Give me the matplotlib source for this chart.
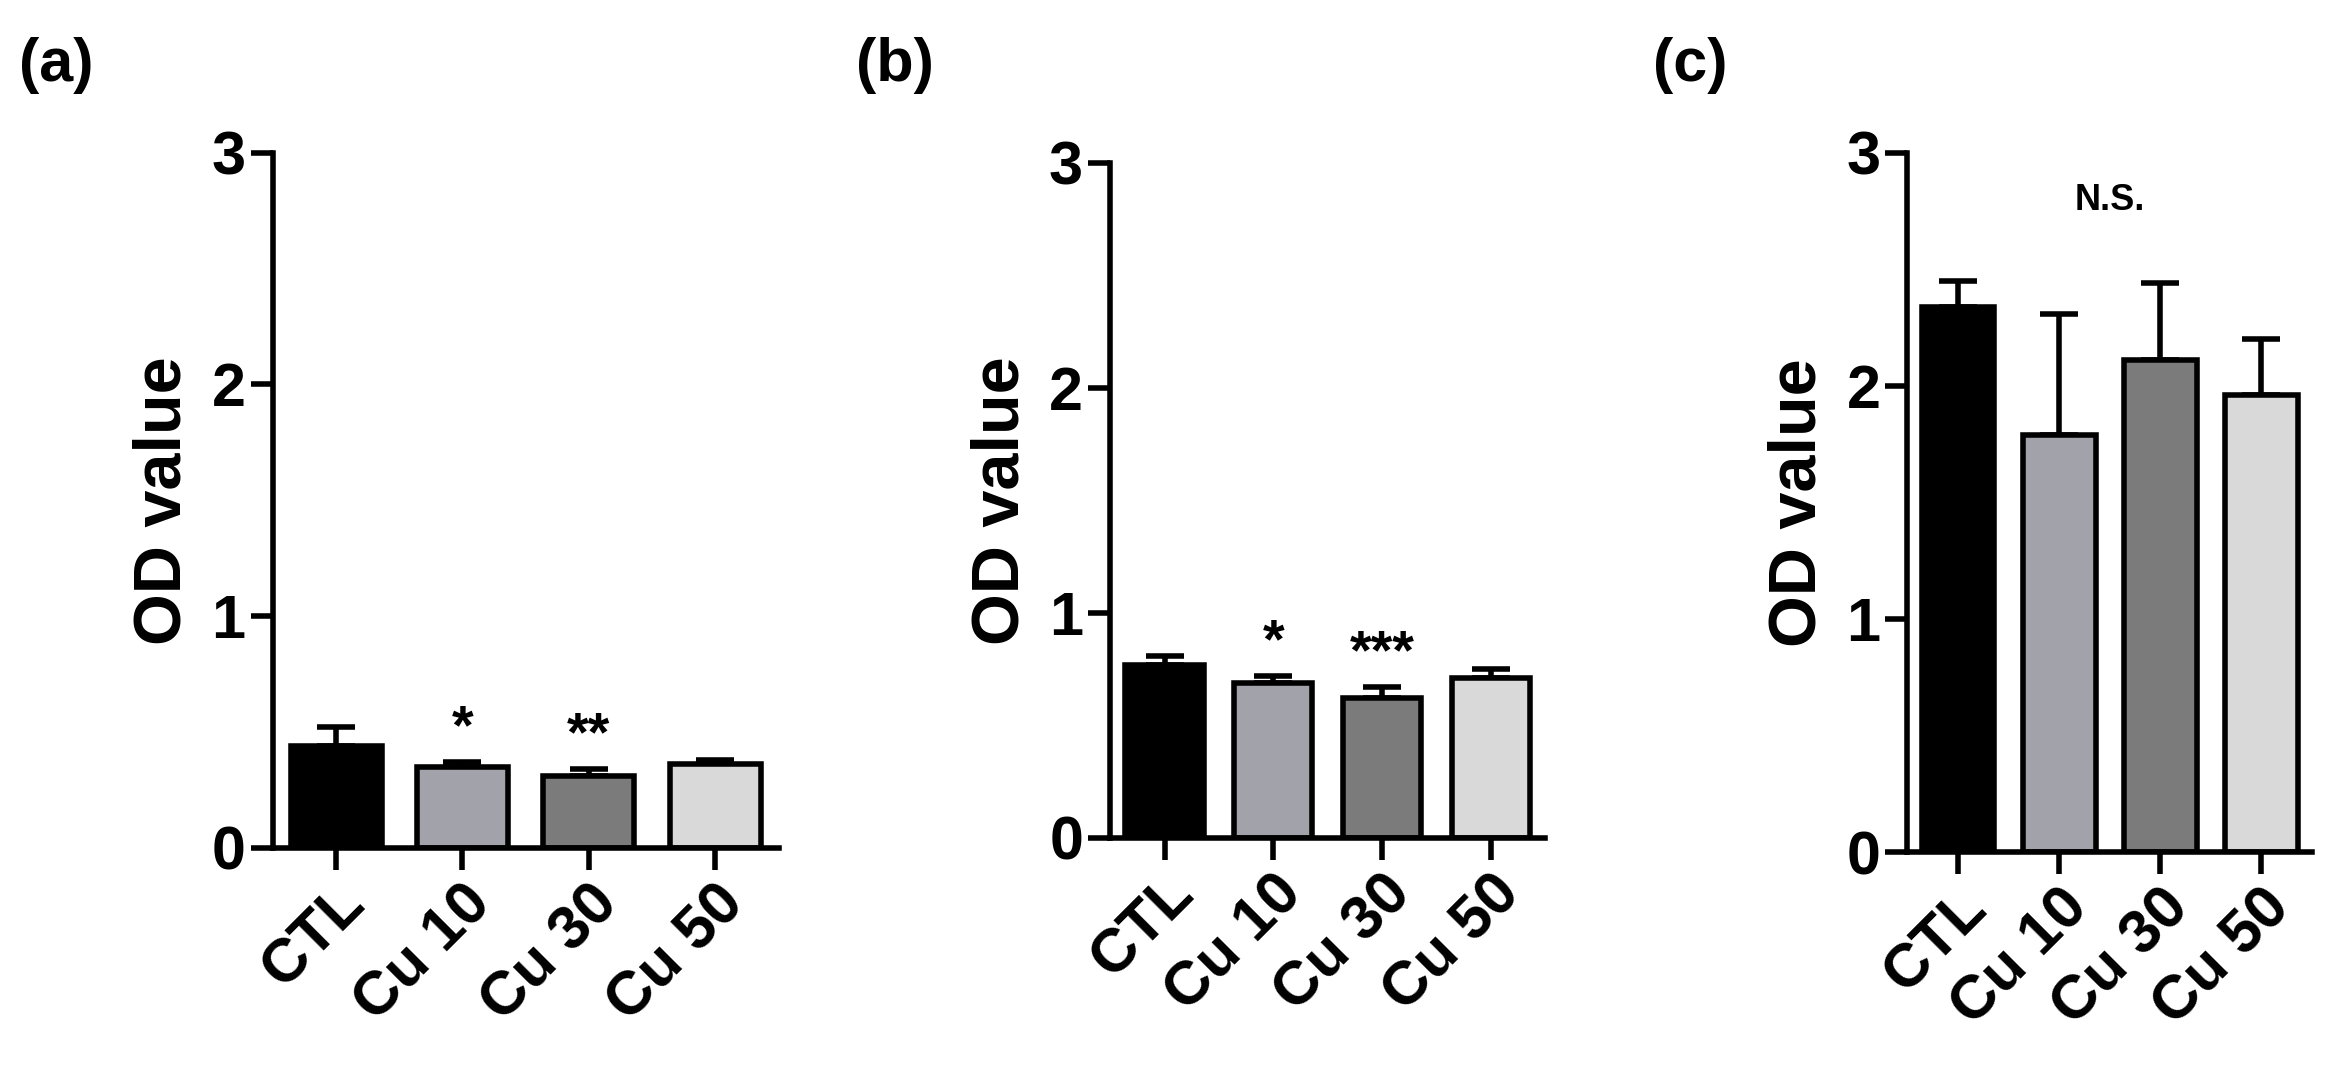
import matplotlib.pyplot as plt
import numpy as np

plt.rcParams['font.family'] = ['Liberation Sans', 'DejaVu Sans']
plt.rcParams['font.weight'] = 'bold'

groups = ['CTL', 'Cu 10', 'Cu 30', 'Cu 50']
colors = ['#000000', '#a2a2aa', '#7b7b7b', '#d9d9d9']

a_vals = [0.44, 0.35, 0.31, 0.36]
a_err = [0.08, 0.02, 0.03, 0.02]
a_sig = ['', '*', '**', '']

b_vals = [0.77, 0.69, 0.62, 0.71]
b_err = [0.04, 0.03, 0.05, 0.04]
b_sig = ['', '*', '***', '']

c_vals = [2.34, 1.79, 2.11, 1.96]
c_err = [0.11, 0.52, 0.33, 0.24]

fig = plt.figure(figsize=(23.52, 10.91), dpi=100)
axes = [fig.add_axes([0.116, 0.223, 0.215, 0.637]),
        fig.add_axes([0.472, 0.232, 0.185, 0.619]),
        fig.add_axes([0.811, 0.219, 0.172, 0.641])]
panels = [(a_vals, a_err, a_sig, '(a)'),
          (b_vals, b_err, b_sig, '(b)'),
          (c_vals, c_err, ['', '', '', ''], '(c)')]

x = np.arange(len(groups))
for ax, (vals, err, sig, lab) in zip(axes, panels):
    ax.bar(x, vals, width=0.72, color=colors, edgecolor='black', linewidth=4, zorder=2)
    ax.errorbar(x, vals, yerr=[np.zeros(4), err], fmt='none', ecolor='black',
                elinewidth=4, capsize=14, capthick=4, zorder=1)
    for xi, v, e, s in zip(x, vals, err, sig):
        if s:
            ax.text(xi, v + e + 0.03, s, ha='center', va='bottom', fontsize=40)
    ax.set_ylim(0, 3)
    ax.set_xlim(-0.5, 3.5)
    ax.set_yticks([0, 1, 2, 3])
    ax.set_xticks(x)
    ax.set_xticklabels(groups, rotation=45, ha='right', rotation_mode='anchor')
    ax.tick_params(labelsize=44, width=4, length=16)
    for sp in ['top', 'right']:
        ax.spines[sp].set_visible(False)
    for sp in ['left', 'bottom']:
        ax.spines[sp].set_linewidth(4)
    ax.set_ylabel('OD value', fontsize=48, fontweight='bold', labelpad=12)
    for t in ax.get_xticklabels() + ax.get_yticklabels():
        t.set_fontweight('bold')
    pos = ax.get_position()
    fig.text(pos.x0 - 0.108, 0.94, lab, fontsize=44, fontweight='bold', va='center')

axes[2].text(1.5, 2.72, 'N.S.', ha='center', va='bottom', fontsize=26)

fig.savefig('out.png', dpi=100)
